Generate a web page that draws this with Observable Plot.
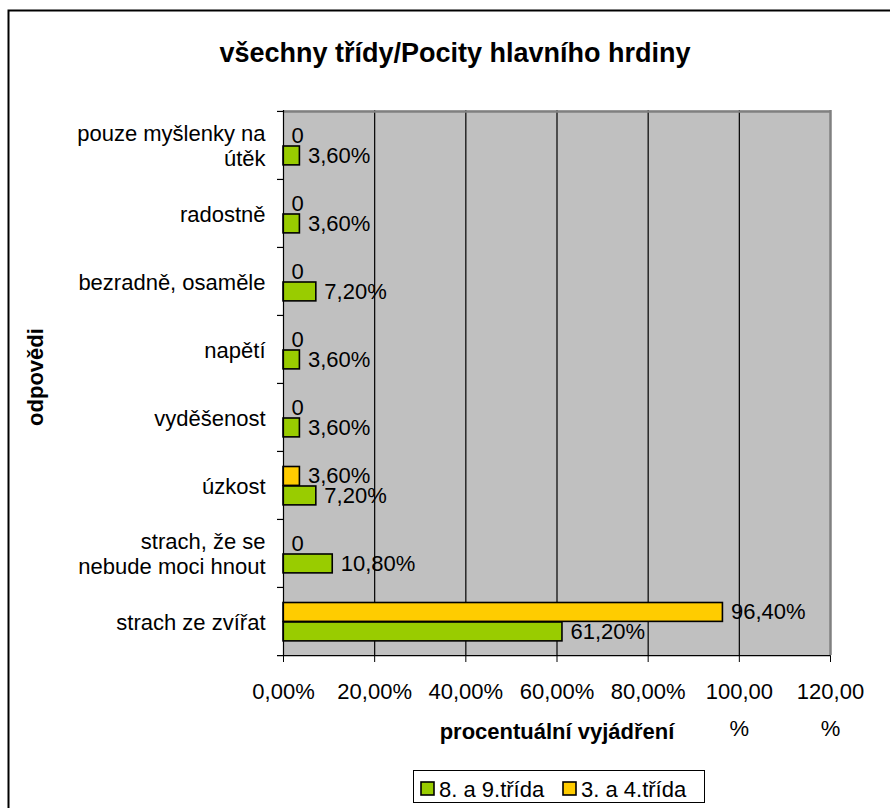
<!DOCTYPE html>
<html><head><meta charset="utf-8">
<script src="https://cdn.jsdelivr.net/npm/d3@7"></script>
<script src="https://cdn.jsdelivr.net/npm/@observablehq/plot@0.6"></script>
<style>html,body{margin:0;padding:0;background:#fff;} #chart{width:890px;height:808px;overflow:hidden}</style>
</head><body><div id="chart"></div>
<script>
const chartTitle = "všechny třídy/Pocity hlavního hrdiny";
const xTitle = "procentuální vyjádření";
const yTitle = "odpovědi";
const categories = ["pouze myšlenky na útěk", "radostně", "bezradně, osaměle", "napětí", "vyděšenost", "úzkost", "strach, že se nebude moci hnout", "strach ze zvířat"];
const categoryLabels = ["pouze myšlenky na\nútěk", "radostně", "bezradně, osaměle", "napětí", "vyděšenost", "úzkost", "strach, že se\nnebude moci hnout", "strach ze zvířat"];
const seriesNames = ["8. a 9.třída", "3. a 4.třída"];
const seriesColors = ["#99CC00", "#FFCC00"];
const values89 = [3.6, 3.6, 7.2, 3.6, 3.6, 7.2, 10.8, 61.2];
const values34 = [0, 0, 0, 0, 0, 3.6, 0, 96.4];
const xTicks = [0, 20, 40, 60, 80, 100, 120];
const xTickLabels = ["0,00%", "20,00%", "40,00%", "60,00%", "80,00%", "100,00\n%", "120,00\n%"];
const gridValues = [20, 40, 60, 80, 100];

const W = 890, H = 808, mL = 283, mR = 60, mT = 110, mB = 153;
const step = (H - mT - mB) / categories.length;
const pxPerUnit = (W - mL - mR) / 120;
const tickLen = 6 / pxPerUnit;
const font = "'Liberation Sans', Arial, sans-serif";
const fmt = v => v === 0 ? "0" : v.toFixed(2).replace(".", ",") + "%";
const rows89 = categories.map((c, i) => ({cat: c, v: values89[i]}));
const rows34 = categories.map((c, i) => ({cat: c, v: values34[i]}));
const labelOf = Object.fromEntries(categories.map((c, i) => [c, categoryLabels[i]]));
const barH = 19;

const plot = Plot.plot({
  width: W, height: H,
  marginLeft: mL, marginRight: mR, marginTop: mT, marginBottom: mB,
  style: {fontFamily: font, fontSize: "22px", background: "white", color: "black", overflow: "visible"},
  x: {domain: [0, 120], ticks: xTicks, tickSize: 7, tickFormat: () => "", label: null},
  y: {domain: categories, padding: 0, axis: null},
  marks: [
    Plot.frame({fill: "#C0C0C0", stroke: null}),
    Plot.ruleX(gridValues, {stroke: "black", strokeWidth: 1.2}),
    Plot.ruleX([120], {stroke: "#808080", strokeWidth: 2.5}),
    Plot.ruleY([categories[0]], {dy: -step / 2, x1: 0, x2: 120, stroke: "#808080", strokeWidth: 2.5}),
    Plot.barX(rows34, {filter: d => d.v > 0, x: "v", y: "cat", fill: seriesColors[1], stroke: "black", strokeWidth: 1.6, insetTop: 15.5, insetBottom: step - 15.5 - barH}),
    Plot.barX(rows89, {filter: d => d.v > 0, x: "v", y: "cat", fill: seriesColors[0], stroke: "black", strokeWidth: 1.6, insetTop: 35, insetBottom: step - 35 - barH}),
    Plot.ruleX([0], {stroke: "black", strokeWidth: 1.2}),
    Plot.ruleY(categories, {dy: -step / 2, x1: -tickLen, x2: 0, stroke: "black", strokeWidth: 1.2}),
    Plot.ruleY([categories[categories.length - 1]], {dy: step / 2, x1: -tickLen, x2: 120, stroke: "black", strokeWidth: 1.2}),
    Plot.text(rows34, {x: "v", y: "cat", text: d => fmt(d.v), dx: 8, dy: -10, textAnchor: "start", fontSize: 22}),
    Plot.text(rows89, {x: "v", y: "cat", text: d => fmt(d.v), dx: 8, dy: 10, textAnchor: "start", fontSize: 22}),
    Plot.text(categories, {y: d => d, text: d => labelOf[d], frameAnchor: "left", dx: -18, textAnchor: "end", lineAnchor: "middle", lineHeight: 1.14, fontSize: 22, ariaLabel: "category-labels"}),
    Plot.text(xTicks, {x: d => d, text: (d, i) => xTickLabels[i], frameAnchor: "bottom", textAnchor: "middle", lineAnchor: "top", dy: 17, lineHeight: 1.68, fontSize: 22}),
    Plot.text([xTitle], {text: d => d, frameAnchor: "bottom", textAnchor: "middle", lineAnchor: "middle", dy: 76, fontWeight: "bold", fontSize: 22}),
    Plot.text([yTitle], {text: d => d, frameAnchor: "left", textAnchor: "middle", lineAnchor: "middle", dx: 35 - mL, dy: -6, rotate: -90, fontWeight: "bold", fontSize: 22}),
    Plot.text([chartTitle], {text: d => d, frameAnchor: "top", textAnchor: "middle", lineAnchor: "middle", dx: 454.5 - (mL + (W - mL - mR) / 2), dy: 53 - mT, fontWeight: "bold", fontSize: 27})
  ]
});

document.getElementById("chart").append(plot);
const svg = d3.select(plot);

// center the lines of wrapped category labels within their block
svg.selectAll('g[aria-label="category-labels"] text').each(function () {
  const tspans = Array.from(this.querySelectorAll("tspan"));
  if (tspans.length < 2) return;
  const maxW = Math.max(...tspans.map(t => t.getComputedTextLength()));
  this.setAttribute("text-anchor", "middle");
  tspans.forEach(t => t.setAttribute("x", -maxW / 2));
});

// outer chart border (right/bottom edges fall outside the picture)
svg.append("path").attr("d", "M8.5,808 V10.5 H890").attr("fill", "none").attr("stroke", "black").attr("stroke-width", 2);

// legend
const lg = svg.append("g").attr("font-family", font).attr("font-size", 22).attr("text-anchor", "start");
lg.append("rect").attr("x", 413.5).attr("y", 770.5).attr("width", 291).attr("height", 32).attr("fill", "white").attr("stroke", "black");
const legendX = [421, 563];
seriesNames.forEach((name, i) => {
  lg.append("rect").attr("x", legendX[i]).attr("y", 782).attr("width", 13).attr("height", 13)
    .attr("fill", seriesColors[i]).attr("stroke", "black").attr("stroke-width", 1.6);
  lg.append("text").attr("x", legendX[i] + 18).attr("y", 797).attr("text-anchor", "start").text(name);
});
</script>
</body></html>
